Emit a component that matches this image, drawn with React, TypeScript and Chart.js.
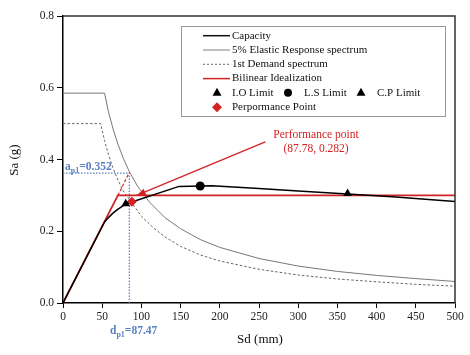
import React, { useEffect, useRef } from 'react';
import { Chart, registerables } from 'chart.js';
Chart.register(...registerables);

const capacitySd = [0, 53, 58, 63, 68, 74, 80, 148, 190, 250, 300, 363, 420, 500];
const capacitySa = [0, 0.226, 0.238, 0.249, 0.258, 0.267, 0.276, 0.325, 0.327, 0.319, 0.312, 0.304, 0.296, 0.283];

const elasticSd = [0, 53, 58, 64, 70, 77, 84.6, 95, 110, 130, 150, 175, 200, 250, 300, 350, 400, 450, 500];
const elasticSa = [0.585, 0.585, 0.533, 0.484, 0.443, 0.403, 0.366, 0.326, 0.282, 0.238, 0.207, 0.177, 0.155, 0.124, 0.103, 0.088, 0.077, 0.068, 0.06];

const demandSd = [0, 48, 53, 58, 64, 70, 77, 87, 100, 115, 130, 150, 175, 200, 250, 300, 350, 400, 450, 500];
const demandSa = [0.5, 0.5, 0.453, 0.414, 0.375, 0.343, 0.312, 0.281, 0.242, 0.21, 0.184, 0.158, 0.134, 0.117, 0.094, 0.078, 0.067, 0.059, 0.052, 0.047];

const bilinearSd = [0, 70, 500];
const bilinearSa = [0, 0.3, 0.3];
const extensionSd = [70, 84.6];
const extensionSa = [0.3, 0.364];

const guideHSd = [0, 84.6];
const guideHSa = [0.362, 0.362];
const guideVSd = [84.6, 84.6];
const guideVSa = [0, 0.362];

const arrowSd = [258, 94];
const arrowSa = [0.449, 0.3];

const ioSd = [80]; const ioSa = [0.277];
const lsSd = [175]; const lsSa = [0.326];
const cpSd = [363]; const cpSa = [0.305];
const ppSd = [87.78]; const ppSa = [0.282];

const xTicks = [0, 50, 100, 150, 200, 250, 300, 350, 400, 450, 500];
const yTicks = [0, 0.2, 0.4, 0.6, 0.8];

const legendLabels = ['Capacity', '5% Elastic Response spectrum', '1st Demand spectrum', 'Bilinear Idealization', 'I.O Limit', 'L.S Limit', 'C.P Limit', 'Perpormance Point'];

const RED = '#d42222';
const BLUE = '#5a80c2';
const SERIF = "'Liberation Serif', 'DejaVu Serif', serif";

const pts = (xs: number[], ys: number[]) => xs.map((x, i) => ({ x, y: ys[i] }));

function tri(ctx: CanvasRenderingContext2D, x: number, y: number, r: number) {
  ctx.beginPath();
  ctx.moveTo(x, y - r);
  ctx.lineTo(x + r * 0.9, y + r * 0.6);
  ctx.lineTo(x - r * 0.9, y + r * 0.6);
  ctx.closePath();
  ctx.fill();
}

const overlay = {
  id: 'overlay',
  afterDatasetsDraw(chart: any) {
    const ctx: CanvasRenderingContext2D = chart.ctx;
    const { left, right, top, bottom } = chart.chartArea;
    ctx.save();
    // frame top/right
    ctx.strokeStyle = '#333';
    ctx.lineWidth = 1.5;
    ctx.beginPath();
    ctx.moveTo(left, top);
    ctx.lineTo(right, top);
    ctx.lineTo(right, bottom);
    ctx.stroke();

    // arrowhead
    const meta = chart.getDatasetMeta(chart.data.datasets.findIndex((d: any) => d.label === 'arrow'));
    const p0 = meta.data[0];
    const p1 = meta.data[1];
    const ang = Math.atan2(p1.y - p0.y, p1.x - p0.x);
    const L = 9, W = 3.5;
    ctx.fillStyle = RED;
    ctx.beginPath();
    ctx.moveTo(p1.x, p1.y);
    ctx.lineTo(p1.x - L * Math.cos(ang) + W * Math.sin(ang), p1.y - L * Math.sin(ang) - W * Math.cos(ang));
    ctx.lineTo(p1.x - L * Math.cos(ang) - W * Math.sin(ang), p1.y - L * Math.sin(ang) + W * Math.cos(ang));
    ctx.closePath();
    ctx.fill();

    // performance label
    ctx.fillStyle = RED;
    ctx.font = `11.5px ${SERIF}`;
    ctx.textAlign = 'center';
    ctx.textBaseline = 'middle';
    ctx.fillText('Performance point', 316, 135);
    ctx.fillText(`(${ppSd[0].toFixed(2)}, ${ppSa[0].toFixed(3)})`, 316, 148.5);

    // blue labels
    const sub = (x: number, y: number, main: string, s: string, rest: string) => {
      ctx.fillStyle = BLUE;
      ctx.textAlign = 'left';
      ctx.textBaseline = 'alphabetic';
      ctx.font = `bold 11.5px ${SERIF}`;
      ctx.fillText(main, x, y);
      let w = ctx.measureText(main).width;
      ctx.font = `bold 8px ${SERIF}`;
      ctx.fillText(s, x + w, y + 3);
      w += ctx.measureText(s).width;
      ctx.font = `bold 11.5px ${SERIF}`;
      ctx.fillText(rest, x + w, y);
    };
    sub(65, 170, 'a', 'p1', '=0.352');
    sub(110, 334, 'd', 'p1', '=87.47');

    // axis titles
    ctx.fillStyle = '#111';
    ctx.font = `13px ${SERIF}`;
    ctx.textAlign = 'center';
    ctx.textBaseline = 'middle';
    ctx.fillText('Sd (mm)', 260, 340);
    ctx.save();
    ctx.translate(15, 160);
    ctx.rotate(-Math.PI / 2);
    ctx.fillText('Sa (g)', 0, 0);
    ctx.restore();

    // legend
    const bx = 181, by = 26, bw = 264, bh = 90;
    ctx.fillStyle = '#fff';
    ctx.fillRect(bx, by, bw, bh);
    ctx.strokeStyle = '#999';
    ctx.lineWidth = 1;
    ctx.strokeRect(bx + 0.5, by + 0.5, bw, bh);
    const rows = [35.7, 50, 64.3, 78.6, 92.8, 107.2];
    const sx0 = 203, sx1 = 230, tx = 232, mx = 217;
    const line = (y: number, color: string, w: number, dash: number[]) => {
      ctx.strokeStyle = color;
      ctx.lineWidth = w;
      ctx.setLineDash(dash);
      ctx.beginPath();
      ctx.moveTo(sx0, y);
      ctx.lineTo(sx1, y);
      ctx.stroke();
      ctx.setLineDash([]);
    };
    line(rows[0], '#111', 1.5, []);
    line(rows[1], '#aaa', 1.5, []);
    line(rows[2], '#666', 1, [2, 2]);
    line(rows[3], RED, 1.5, []);
    ctx.fillStyle = '#000';
    tri(ctx, mx, rows[4], 5);
    ctx.beginPath();
    ctx.arc(288, rows[4], 4, 0, Math.PI * 2);
    ctx.fill();
    tri(ctx, 361, rows[4], 5);
    ctx.fillStyle = RED;
    ctx.beginPath();
    ctx.moveTo(mx, rows[5] - 5);
    ctx.lineTo(mx + 5, rows[5]);
    ctx.lineTo(mx, rows[5] + 5);
    ctx.lineTo(mx - 5, rows[5]);
    ctx.closePath();
    ctx.fill();
    ctx.fillStyle = '#111';
    ctx.font = `11px ${SERIF}`;
    ctx.textAlign = 'left';
    ctx.textBaseline = 'middle';
    ctx.fillText(legendLabels[0], tx, rows[0]);
    ctx.fillText(legendLabels[1], tx, rows[1]);
    ctx.fillText(legendLabels[2], tx, rows[2]);
    ctx.fillText(legendLabels[3], tx, rows[3]);
    ctx.fillText(legendLabels[4], tx, rows[4]);
    ctx.fillText(legendLabels[5], 304, rows[4]);
    ctx.fillText(legendLabels[6], 377, rows[4]);
    ctx.fillText(legendLabels[7], tx, rows[5]);
    ctx.restore();
  },
};

export default function App() {
  const ref = useRef<HTMLCanvasElement>(null);
  useEffect(() => {
    if (!ref.current) return;
    const lineDs = (label: string, xs: number[], ys: number[], color: string, width: number, dash: number[], order: number) => ({
      label, data: pts(xs, ys), showLine: true, borderColor: color, borderWidth: width, borderDash: dash,
      pointRadius: 0, fill: false, order,
    });
    const markDs = (label: string, xs: number[], ys: number[], style: string, color: string, r: number) => ({
      label, data: pts(xs, ys), showLine: false, pointStyle: style, pointRadius: r,
      backgroundColor: color, borderColor: color, borderWidth: 0, order: 0,
    });
    const chart = new Chart(ref.current, {
      type: 'scatter',
      data: {
        datasets: [
          markDs('I.O Limit', ioSd, ioSa, 'triangle', '#000', 5),
          markDs('L.S Limit', lsSd, lsSa, 'circle', '#000', 4.5),
          markDs('C.P Limit', cpSd, cpSa, 'triangle', '#000', 5),
          markDs('Perpormance Point', ppSd, ppSa, 'rectRot', RED, 5),
          lineDs('Capacity', capacitySd, capacitySa, '#000', 1.5, [], 2),
          lineDs('Bilinear Idealization', bilinearSd, bilinearSa, RED, 1.8, [], 3),
          lineDs('ext', extensionSd, extensionSa, RED, 1.2, [3, 2], 3),
          lineDs('arrow', arrowSd, arrowSa, RED, 1.2, [], 3),
          lineDs('5% Elastic Response spectrum', elasticSd, elasticSa, '#777', 1, [], 5),
          lineDs('1st Demand spectrum', demandSd, demandSa, '#666', 1, [2.5, 2], 5),
          lineDs('gh', guideHSd, guideHSa, BLUE, 1.2, [1.5, 1.5], 6),
          lineDs('gv', guideVSd, guideVSa, BLUE, 1.2, [1.5, 1.5], 6),
        ] as any,
      },
      options: {
        responsive: false,
        devicePixelRatio: 1,
        animation: false,
        layout: { padding: { left: 0, top: 16, right: 15, bottom: 0 } },
        plugins: { legend: { display: false }, tooltip: { enabled: false } },
        scales: {
          x: {
            type: 'linear', min: 0, max: 500,
            afterFit: (s: any) => { s.height = 52; },
            afterBuildTicks: (s: any) => { s.ticks = xTicks.map((v) => ({ value: v })); },
            ticks: { color: '#222', padding: 2, font: { family: SERIF, size: 11.5 }, maxRotation: 0, callback: (v: any) => String(v) },
            grid: { drawOnChartArea: false, drawTicks: true, tickLength: 5, color: '#000' },
            border: { display: true, color: '#000', width: 1.5 },
          },
          y: {
            type: 'linear', min: 0, max: 0.8,
            afterFit: (s: any) => { s.width = 63; },
            afterBuildTicks: (s: any) => { s.ticks = yTicks.map((v) => ({ value: v })); },
            ticks: { color: '#222', padding: 3, font: { family: SERIF, size: 11.5 }, callback: (v: any) => Number(v).toFixed(1) },
            grid: { drawOnChartArea: false, drawTicks: true, tickLength: 6, color: '#000' },
            border: { display: true, color: '#000', width: 1.5 },
          },
        },
      },
      plugins: [overlay],
    } as any);
    return () => chart.destroy();
  }, []);
  return (
    <div style={{ position: 'absolute', left: 0, top: 0, width: 470, height: 355, background: '#fff' }}>
      <canvas ref={ref} width={470} height={355} />
    </div>
  );
}
